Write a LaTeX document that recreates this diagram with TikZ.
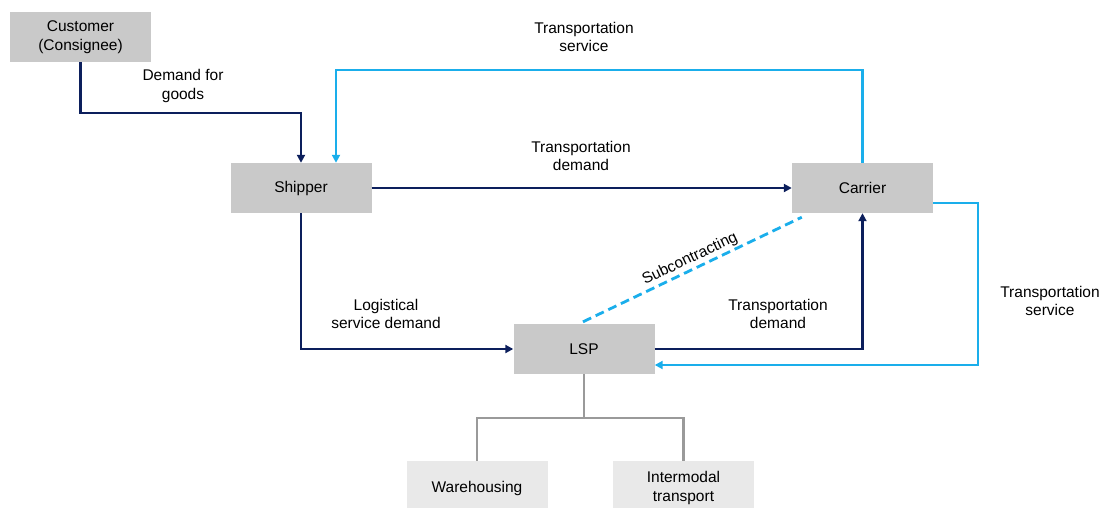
\documentclass[tikz,border=0pt]{standalone}
\usepackage{fontspec}
\setmainfont{Liberation Sans}
\usetikzlibrary{arrows.meta,calc}
\definecolor{navy}{HTML}{0C1F5C}
\definecolor{sky}{HTML}{1AAEEB}
\definecolor{boxgray}{HTML}{C9C9C9}
\definecolor{lightbox}{HTML}{E9E9E9}
\definecolor{treegray}{HTML}{9A9A9A}
\tikzset{
  x=1pt, y=-1pt,
  every node/.style={font=\fontsize{15.5}{18.5}\selectfont, align=center, inner sep=0pt},
  mainbox/.style={fill=boxgray, minimum width=141pt, minimum height=50pt},
  subbox/.style={fill=lightbox, minimum width=141pt, minimum height=54pt},
  flow/.style={draw=navy, line width=2.4pt, -{Triangle[length=8pt,width=8pt]}},
  service/.style={draw=sky, line width=2.8pt, -{Triangle[length=8pt,width=8pt]}},
  subline/.style={draw=sky, line width=2.8pt, dash pattern=on 9pt off 5pt},
  tree/.style={draw=treegray, line width=2.8pt},
}
\begin{document}
\begin{tikzpicture}
\path[use as bounding box] (0,0) rectangle (1104,507);

% boxes
\node[mainbox] (cust) at (80.5,37) {Customer\\(Consignee)};
\node[mainbox] (ship) at (301,188) {Shipper};
\node[mainbox] (carr) at (862.5,188) {Carrier};
\node[mainbox] (lsp) at (584,349) {LSP};
\node[subbox] (ware) at (477,488) {Warehousing};
\node[subbox] (inter) at (683.5,488) {Intermodal\\transport};

% demand flows
\draw[flow] (cust.south) -- (cust.south |- 0,113) -| (ship.north);
\draw[flow] (ship.east) -- (carr.west);
\draw[flow] (ship.south) |- (lsp.west);
\draw[flow] (lsp.east) -| (carr.south);

% service flows
\coordinate (svcin) at ($(ship.north)+(35,0)$);
\draw[service] (carr.north) -- (carr.north |- 0,70) -| (svcin);
\coordinate (cout) at ($(carr.east)+(0,15)$);
\coordinate (lin) at ($(lsp.east)+(0,16)$);
\draw[service] (cout) -- (978,203) -- (978,365) -- (lin);

% subcontracting
\coordinate (subA) at ($(lsp.north)+(-1,-2)$);
\coordinate (subB) at ($(carr.south west)+(10,4)$);
\draw[subline] (subA) -- (subB);
\node[rotate=25.6] (sublbl) at (690,259) {Subcontracting};

% LSP branches
\coordinate (fork) at (lsp.south |- 0,418);
\draw[tree] (lsp.south) -- (fork);
\draw[tree] (ware.north) -- (ware.north |- fork) -- (inter.north |- fork) -- (inter.north);

% labels
\node (l1) at (183,86) {Demand for\\goods};
\node (l2) at (584,37) {Transportation\\service};
\node (l3) at (581,156) {Transportation\\demand};
\node (l4) at (386,314) {Logistical\\service demand};
\node (l5) at (778,314) {Transportation\\demand};
\node (l6) at (1050,301) {Transportation\\service};
\end{tikzpicture}
\end{document}
